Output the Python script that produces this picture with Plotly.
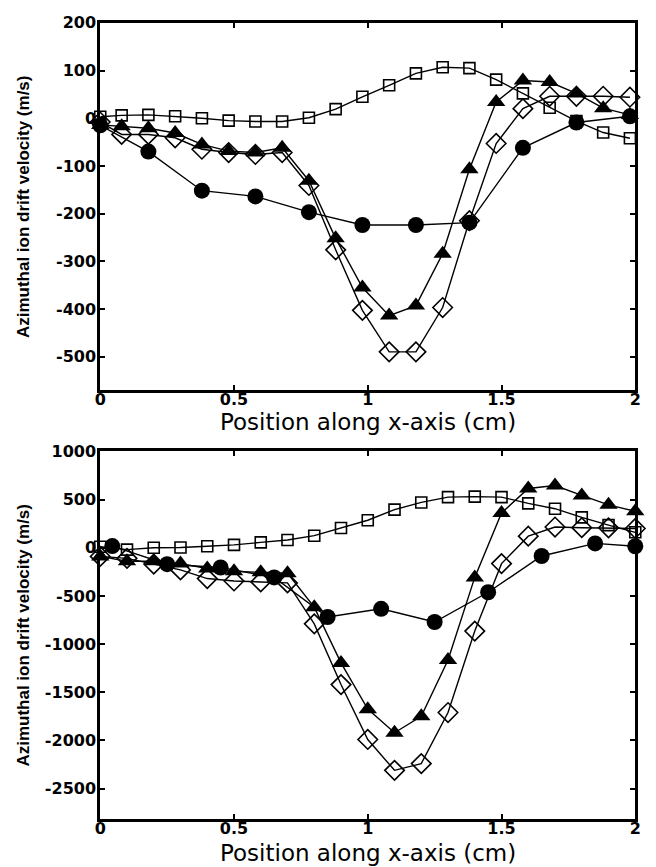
import plotly.graph_objects as go

# ---------------- Top panel data ----------------
top_sq_x = [0.0, 0.08, 0.18, 0.28, 0.38, 0.48, 0.58, 0.68, 0.78, 0.88, 0.98, 1.08, 1.18, 1.28, 1.38, 1.48, 1.58, 1.68, 1.78, 1.88, 1.98]
top_sq_y = [3, 6, 7, 4, 0, -5, -7, -7, 1, 19, 45, 69, 94, 107, 105, 81, 52, 22, -6, -30, -42]

top_di_x = [0.0, 0.08, 0.18, 0.28, 0.38, 0.48, 0.58, 0.68, 0.78, 0.88, 0.98, 1.08, 1.18, 1.28, 1.38, 1.48, 1.58, 1.68, 1.78, 1.88, 1.98]
top_di_y = [-8, -34, -34, -41, -65, -72, -76, -72, -141, -276, -403, -490, -490, -397, -215, -53, 20, 46, 46, 46, 44]

top_tr_x = [0.0, 0.08, 0.18, 0.28, 0.38, 0.48, 0.58, 0.68, 0.78, 0.88, 0.98, 1.08, 1.18, 1.28, 1.38, 1.48, 1.58, 1.68, 1.78, 1.88, 1.98]
top_tr_y = [-14, -17, -21, -31, -55, -69, -72, -62, -131, -252, -355, -414, -393, -284, -107, 34, 79, 76, 52, 21, 7]

top_ci_x = [0.0, 0.18, 0.38, 0.58, 0.78, 0.98, 1.18, 1.38, 1.58, 1.78, 1.98]
top_ci_y = [-15, -70, -152, -164, -197, -224, -224, -219, -62, -9, 4]

# ---------------- Bottom panel data ----------------
bot_x = [0.0, 0.1, 0.2, 0.3, 0.4, 0.5, 0.6, 0.7, 0.8, 0.9, 1.0, 1.1, 1.2, 1.3, 1.4, 1.5, 1.6, 1.7, 1.8, 1.9, 2.0]
bot_sq_y = [10, -20, 0, 3, 15, 30, 55, 80, 125, 205, 285, 395, 470, 525, 530, 525, 460, 405, 315, 235, 160]
bot_di_y = [-90, -110, -170, -230, -320, -345, -355, -365, -790, -1420, -1990, -2310, -2240, -1710, -865, -165, 120, 215, 208, 206, 200]
bot_tr_y = [-90, -140, -140, -165, -215, -245, -255, -265, -617, -1195, -1675, -1920, -1750, -1165, -308, 360, 615, 645, 543, 445, 378]

bot_ci_x = [0.045, 0.25, 0.45, 0.65, 0.85, 1.05, 1.25, 1.45, 1.65, 1.85, 2.0]
bot_ci_y = [17, -171, -205, -308, -719, -634, -771, -462, -86, 45, 15]

# ---------------- Axis ticks ----------------
x_ticks = [0, 0.5, 1, 1.5, 2]
x_ticktext = ["0", "0.5", "1", "1.5", "2"]
top_yticks = [200, 100, 0, -100, -200, -300, -400, -500]
top_ytext = ["200", "100", "0", "-100", "-200", "-300", "-400", "-500"]
bot_yticks = [1000, 500, 0, -500, -1000, -1500, -2000, -2500]
bot_ytext = ["1000", "500", "0", "-500", "-1000", "-1500", "-2000", "-2500"]
top_yrange = [-570, 200]
bot_yrange = [-2810, 1000]

x_title = "Position along x-axis (cm)"
y_title = "Azimuthal ion drift velocity (m/s)"

LINE = dict(color="black", width=1.4)

fig = go.Figure()

def add_series(x, y, symbol, size, xa, ya, filled):
    mk = dict(symbol=symbol, size=size, color="black",
              line=dict(color="black", width=1.6 if not filled else 0))
    fig.add_trace(go.Scatter(x=x, y=y, mode="lines+markers", line=LINE,
                             marker=mk, xaxis=xa, yaxis=ya, showlegend=False,
                             cliponaxis=False))

# top panel
add_series(top_sq_x, top_sq_y, "square-open", 11, "x", "y", False)
add_series(top_ci_x, top_ci_y, "circle", 16, "x", "y", True)
add_series(top_tr_x, top_tr_y, "triangle-up", 16, "x", "y", True)
add_series(top_di_x, top_di_y, "diamond-open", 15, "x", "y", False)

# bottom panel
add_series(bot_x, bot_sq_y, "square-open", 11, "x2", "y2", False)
add_series(bot_ci_x, bot_ci_y, "circle", 16, "x2", "y2", True)
add_series(bot_x, bot_tr_y, "triangle-up", 16, "x2", "y2", True)
add_series(bot_x, bot_di_y, "diamond-open", 15, "x2", "y2", False)

W, H = 656, 867
xdom = [96 / W, 641 / W]
top_dom = [(H - 385) / H, (H - 14) / H]
bot_dom = [(H - 818) / H, (H - 447) / H]

tickfont = dict(family="DejaVu Sans", size=16, color="black", weight="bold")
common = dict(showline=True, linewidth=3, linecolor="black", mirror="ticks",
              ticks="inside", ticklen=5, tickwidth=2, tickcolor="black",
              showgrid=False, zeroline=False, tickfont=tickfont)

fig.update_layout(
    width=W, height=H,
    margin=dict(l=0, r=0, t=0, b=0),
    paper_bgcolor="white", plot_bgcolor="white",
    xaxis=dict(domain=xdom, range=[0, 2], tickvals=x_ticks, ticktext=x_ticktext,
               anchor="y", ticklabelstandoff=-7, **common),
    yaxis=dict(domain=top_dom, range=top_yrange, tickvals=top_yticks,
               ticktext=top_ytext, anchor="x", ticklabelstandoff=-2, **common),
    xaxis2=dict(domain=xdom, range=[0, 2], tickvals=x_ticks, ticktext=x_ticktext,
                anchor="y2", ticklabelstandoff=-7, **common),
    yaxis2=dict(domain=bot_dom, range=bot_yrange, tickvals=bot_yticks,
                ticktext=bot_ytext, anchor="x2", ticklabelstandoff=-2, **common),
)

xtitle_font = dict(family="DejaVu Sans", size=23, color="black")
ytitle_font = dict(family="Liberation Sans", size=17, color="black", weight="bold")
xc = (xdom[0] + xdom[1]) / 2
annotations = [
    dict(text=x_title, x=xc, y=(H - 417) / H, xref="paper", yref="paper",
         showarrow=False, font=xtitle_font, xanchor="center", yanchor="middle"),
    dict(text=x_title, x=xc, y=(H - 853) / H, xref="paper", yref="paper",
         showarrow=False, font=xtitle_font, xanchor="center", yanchor="middle"),
    dict(text=y_title, x=18 / W, y=(top_dom[0] + top_dom[1]) / 2, xref="paper",
         yref="paper", showarrow=False, font=ytitle_font, textangle=-90,
         xanchor="center", yanchor="middle"),
    dict(text=y_title, x=18 / W, y=(bot_dom[0] + bot_dom[1]) / 2, xref="paper",
         yref="paper", showarrow=False, font=ytitle_font, textangle=-90,
         xanchor="center", yanchor="middle"),
]
fig.update_layout(annotations=annotations)

fig.write_html("out.html")
